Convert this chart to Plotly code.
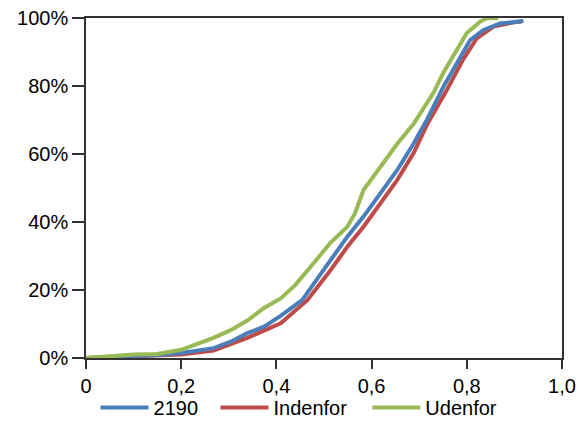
import plotly.graph_objects as go

x_2190 = [0.0, 0.05, 0.10, 0.15, 0.20, 0.268, 0.304, 0.339, 0.374, 0.409, 0.454, 0.514, 0.549, 0.583, 0.618, 0.654, 0.688, 0.716, 0.751, 0.786, 0.807, 0.835, 0.87, 0.919]
y_2190 = [0.0, 0.003, 0.006, 0.009, 0.015, 0.029, 0.048, 0.073, 0.092, 0.124, 0.17, 0.288, 0.357, 0.416, 0.484, 0.553, 0.63, 0.70, 0.798, 0.886, 0.935, 0.965, 0.984, 0.991]

x_ind = [0.0, 0.05, 0.10, 0.15, 0.20, 0.268, 0.339, 0.409, 0.465, 0.514, 0.549, 0.583, 0.618, 0.654, 0.688, 0.716, 0.758, 0.793, 0.821, 0.856, 0.905, 0.915]
y_ind = [0.0, 0.002, 0.005, 0.007, 0.010, 0.022, 0.059, 0.102, 0.17, 0.259, 0.327, 0.386, 0.455, 0.524, 0.602, 0.685, 0.788, 0.88, 0.94, 0.975, 0.989, 0.99]

x_ud = [0.0, 0.058, 0.10, 0.15, 0.17, 0.20, 0.268, 0.304, 0.339, 0.374, 0.409, 0.44, 0.479, 0.513, 0.549, 0.565, 0.583, 0.618, 0.654, 0.689, 0.73, 0.751, 0.78, 0.80, 0.828, 0.842, 0.866]
y_ud = [0.0, 0.006, 0.010, 0.012, 0.018, 0.024, 0.059, 0.082, 0.11, 0.147, 0.175, 0.215, 0.28, 0.338, 0.386, 0.425, 0.494, 0.56, 0.63, 0.69, 0.78, 0.84, 0.906, 0.956, 0.989, 0.999, 1.0]

x_ticks = [0, 0.2, 0.4, 0.6, 0.8, 1.0]
x_labels = ["0", "0,2", "0,4", "0,6", "0,8", "1,0"]
y_ticks = [0, 0.2, 0.4, 0.6, 0.8, 1.0]
y_labels = ["0%", "20%", "40%", "60%", "80%", "100%"]

fig = go.Figure()
fig.add_trace(go.Scatter(x=x_ind, y=y_ind, mode="lines", name="Indenfor", legend="legend2",
                         line=dict(color="#BE4B48", width=4)))
fig.add_trace(go.Scatter(x=x_2190, y=y_2190, mode="lines", name="2190", legend="legend",
                         line=dict(color="#4A7EBB", width=4)))
fig.add_trace(go.Scatter(x=x_ud, y=y_ud, mode="lines", name="Udenfor", legend="legend3",
                         line=dict(color="#98B954", width=4)))

leg_common = dict(orientation="h", xanchor="left", y=-0.088, yanchor="top",
                  font=dict(size=20), bgcolor="rgba(0,0,0,0)", itemwidth=48)

fig.update_layout(
    width=585, height=439,
    margin=dict(l=78, r=31, t=10, b=89, autoexpand=False),
    paper_bgcolor="white", plot_bgcolor="white",
    font=dict(family="Liberation Sans, Arial, sans-serif", size=20, color="#000"),
    showlegend=True,
    legend=dict(x=0.02, **leg_common),
    legend2=dict(x=0.272, **leg_common),
    legend3=dict(x=0.591, **leg_common),
    xaxis=dict(range=[0, 1.0], tickvals=x_ticks, ticktext=x_labels, automargin=False,
               ticklabeloverflow="allow",
               showgrid=False, zeroline=False, showline=True, linecolor="#333",
               linewidth=1.5, mirror=True, ticks="outside", ticklen=9,
               tickcolor="#333", tickwidth=1.5),
    yaxis=dict(range=[0, 1.0], tickvals=y_ticks, ticktext=y_labels, automargin=False,
               ticklabeloverflow="allow",
               showgrid=False, zeroline=False, showline=True, linecolor="#333",
               linewidth=1.5, mirror=True, ticks="outside", ticklen=12,
               tickcolor="#333", tickwidth=1.5),
)
fig.write_html("out.html")
